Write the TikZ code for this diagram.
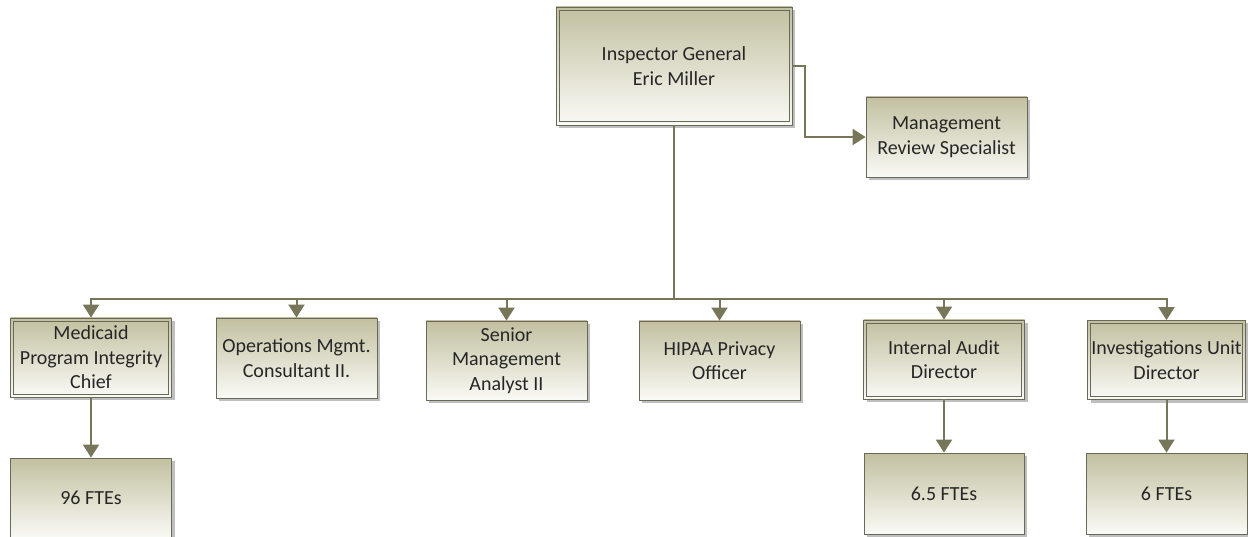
\documentclass[tikz,border=0pt]{standalone}
\usepackage{fontspec}
\setmainfont{Carlito}
\usetikzlibrary{arrows.meta,shadows,shadings}
\definecolor{conncol}{RGB}{120,118,88}
\definecolor{boxborder}{RGB}{105,105,88}
\definecolor{boxtop}{RGB}{194,192,160}
\definecolor{boxbot}{RGB}{250,250,246}
\definecolor{textcol}{RGB}{38,38,38}
\begin{document}
\begin{tikzpicture}[x=1pt,y=-1pt,
  box/.style={draw=boxborder, line width=0.8pt, top color=boxtop, bottom color=boxbot,
    minimum width=161pt, minimum height=80pt, align=center, inner sep=0pt,
    font=\fontsize{20}{24.4}\selectfont, text=textcol,
    drop shadow={shadow xshift=3pt, shadow yshift=-3pt, fill=black!50, opacity=0.5}},
  innerframe/.style={draw=boxborder, line width=0.8pt},
  conn/.style={draw=conncol, line width=2pt},
  arr/.style={-{Triangle[length=13pt,width=16pt]}}]
\useasboundingbox (0,0) rectangle (1248,537);

% boxes
\node[box, minimum width=236pt, minimum height=118pt] (ig) at (674,66) {Inspector General\\Eric Miller};
\node[box] (mrs) at (946.5,137) {Management\\Review Specialist};
\node[box, minimum height=79pt] (med) at (91,357.5) {Medicaid\\Program Integrity\\Chief};
\node[box] (ops) at (296.5,358) {Operations Mgmt.\\Consultant II.};
\node[box, minimum height=79pt] (sen) at (506.5,360.5) {Senior\\Management\\Analyst II};
\node[box, minimum height=79pt] (hip) at (719.5,360.5) {HIPAA Privacy\\Officer};
\node[box, minimum height=79pt] (aud) at (944,359.5) {Internal Audit\\Director};
\node[box, minimum width=158pt, minimum height=79pt] (inv) at (1166.5,360) {Investigations Unit\\Director};
\node[box] (f96) at (91,498) {96 FTEs};
\node[box, minimum width=160pt, minimum height=81pt] (f65) at (944,493.5) {6.5 FTEs};
\node[box, minimum width=161pt, minimum height=81pt] (f6) at (1166.5,493.5) {6 FTEs};

% inner frames of double-bordered boxes
\foreach \n in {ig,med,aud,inv}{
  \draw[innerframe] ([shift={(3.5pt,-3.5pt)}]\n.north west) rectangle ([shift={(-3.5pt,3.5pt)}]\n.south east);
}

% connectors
\coordinate (bus) at (674,299);
\draw[conn] (ig.south) -- (ig.south |- bus);
\foreach \c in {med,ops,sen,hip,aud,inv}{
  \draw[conn,arr] (ig.south |- bus) -| (\c.north);
}
\draw[conn,arr] (ig.east) -- ++(13,0) |- (mrs.west);
\draw[conn,arr] (med.south) -- (f96.north);
\draw[conn,arr] (aud.south) -- (f65.north);
\draw[conn,arr] (inv.south) -- (f6.north);
\end{tikzpicture}
\end{document}
